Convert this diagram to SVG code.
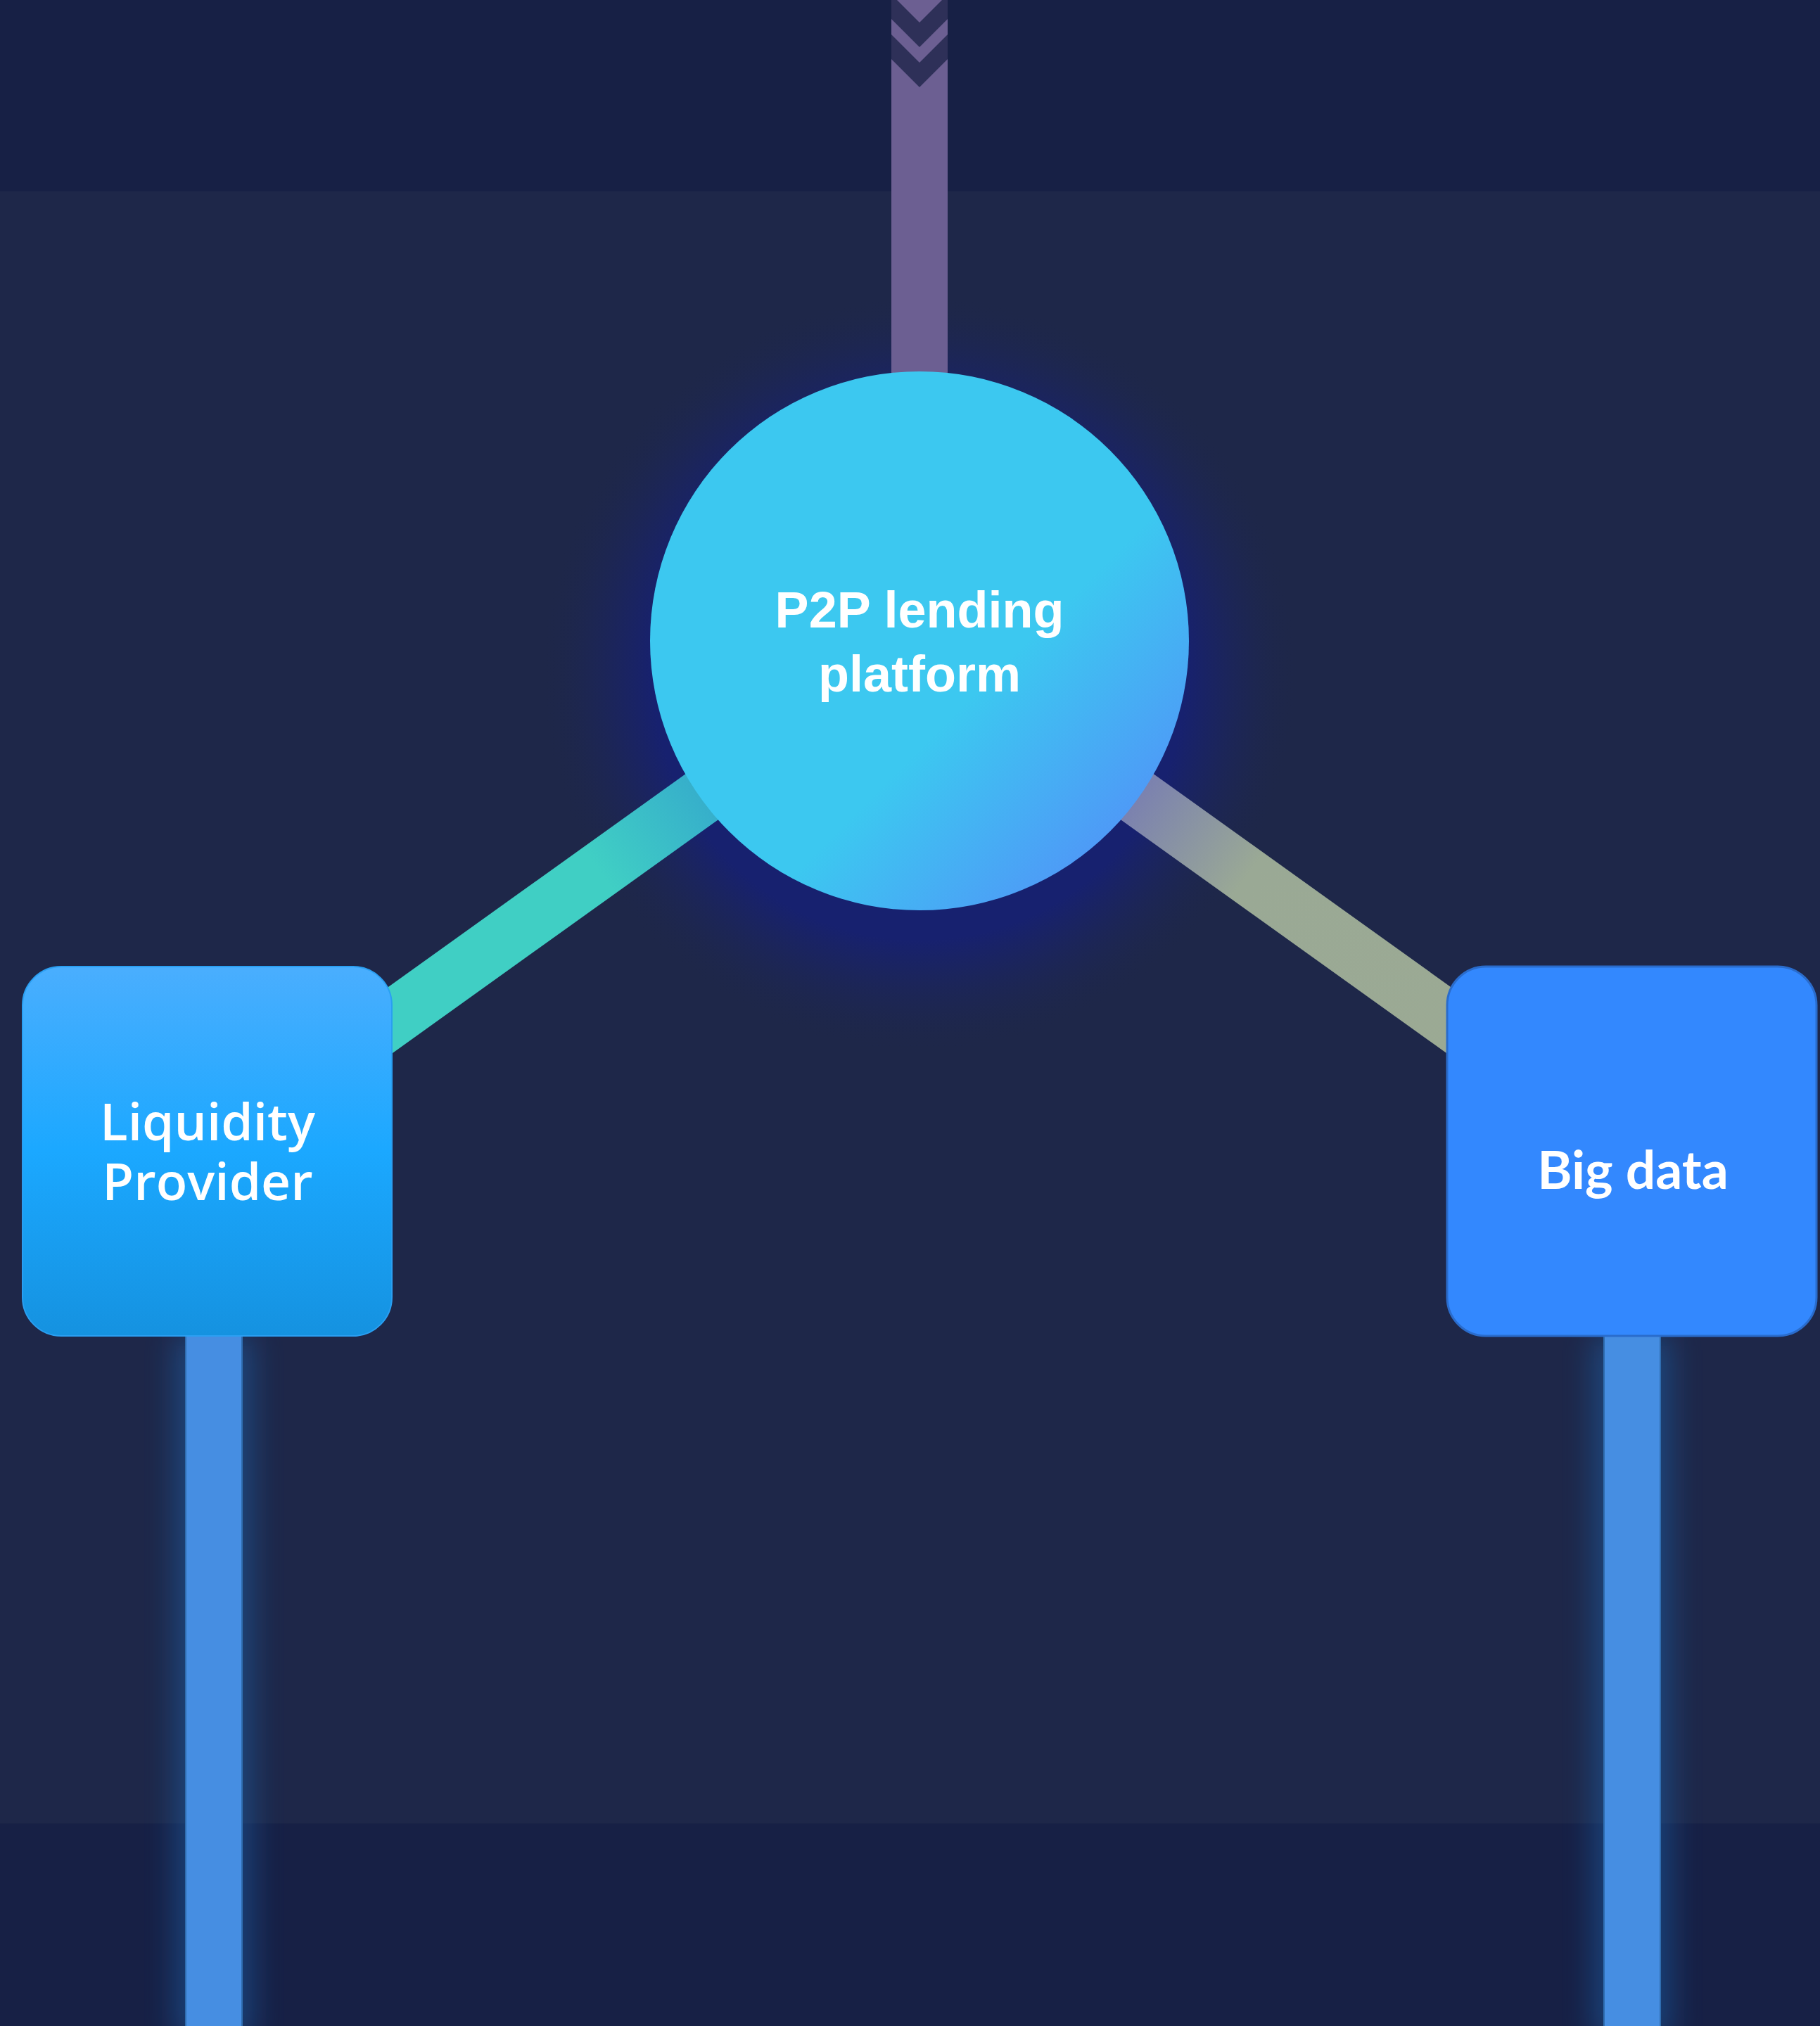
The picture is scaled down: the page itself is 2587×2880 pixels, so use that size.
<svg xmlns="http://www.w3.org/2000/svg" width="2587" height="2880" viewBox="0 0 2587 2880">
  <style>
    .band-dark { fill: #172045; }
    .band-main { fill: #1e2749; }
    .label { fill: #ffffff; text-anchor: middle; }
    .label-hub { font-family: "Liberation Sans", Arial, sans-serif; font-weight: 700; font-size: 72px; }
    .label-box { font-family: "Open Sans", "Noto Sans", sans-serif; font-weight: 600; font-size: 73px; }
    .label-box-bold { font-family: Lato, "Open Sans", sans-serif; font-weight: 700; font-size: 75px; }
    .chevron { fill: #2e3058; }
    .feed { fill: #468ee2; stroke: #2f6db0; stroke-width: 2; }
  </style>
  <defs>
    <linearGradient id="hubFill" x1="0" y1="0" x2="1" y2="1">
      <stop offset="0" stop-color="#3cc8f0"/>
      <stop offset="0.6" stop-color="#3cc8f0"/>
      <stop offset="0.97" stop-color="#5686fa"/>
    </linearGradient>
    <radialGradient id="haloFill" cx="0.5" cy="0.5" r="0.5">
      <stop offset="0.7" stop-color="#17216f" stop-opacity="1"/>
      <stop offset="0.8" stop-color="#19236a" stop-opacity="0.6"/>
      <stop offset="0.9" stop-color="#1b2560" stop-opacity="0.25"/>
      <stop offset="1" stop-color="#1e2749" stop-opacity="0"/>
    </radialGradient>
    <linearGradient id="liquidityFill" x1="0" y1="0" x2="0" y2="1">
      <stop offset="0" stop-color="#4aaefe"/>
      <stop offset="0.5" stop-color="#1ba8ff"/>
      <stop offset="1" stop-color="#1592e0"/>
    </linearGradient>
    <linearGradient id="linkLeft" gradientUnits="userSpaceOnUse" x1="1307" y1="911" x2="294" y2="1637">
      <stop offset="0.3" stop-color="#36aecb"/>
      <stop offset="0.45" stop-color="#40cfc4"/>
      <stop offset="1" stop-color="#40cfc4"/>
    </linearGradient>
    <linearGradient id="linkRight" gradientUnits="userSpaceOnUse" x1="1307" y1="911" x2="2320" y2="1637">
      <stop offset="0.3" stop-color="#7a80b0"/>
      <stop offset="0.46" stop-color="#9aa995"/>
      <stop offset="1" stop-color="#9caa93"/>
    </linearGradient>
    <filter id="feedGlow" x="-100%" y="-10%" width="300%" height="120%">
      <feGaussianBlur stdDeviation="22"/>
    </filter>
  </defs>

  <!-- background bands -->
  <rect class="band-dark" x="0" y="0" width="2587" height="272"/>
  <rect class="band-main" x="0" y="272" width="2587" height="2320"/>
  <rect class="band-dark" x="0" y="2592" width="2587" height="288"/>

  <!-- soft glow behind the hub -->
  <circle cx="1307" cy="958" r="540" fill="url(#haloFill)"/>

  <g id="connectors">
    <!-- incoming feed from above, with chevrons -->
    <rect x="1267" y="0" width="80" height="560" fill="#6c5f92"/>
    <polygon class="chevron" points="1267,-8 1307,32 1347,-8 1347,27 1307,67 1267,27"/>
    <polygon class="chevron" points="1267,49 1307,89 1347,49 1347,84 1307,124 1267,84"/>

    <!-- hub to boxes -->
    <line x1="1307" y1="911" x2="294" y2="1637" stroke="url(#linkLeft)" stroke-width="80"/>
    <line x1="1307" y1="911" x2="2320" y2="1637" stroke="url(#linkRight)" stroke-width="80"/>

    <!-- outgoing feeds below the boxes -->
    <rect x="250" y="1899" width="108" height="1000" fill="#1a70c0" opacity="0.45" filter="url(#feedGlow)"/>
    <rect x="2266" y="1899" width="108" height="1000" fill="#1a70c0" opacity="0.45" filter="url(#feedGlow)"/>
    <rect class="feed" x="264" y="1899" width="80" height="990"/>
    <rect class="feed" x="2280" y="1899" width="80" height="990"/>
  </g>

  <g id="hub">
    <circle cx="1307" cy="911" r="383" fill="url(#hubFill)"/>
    <text class="label label-hub" x="1307" y="892">P2P lending</text>
    <text class="label label-hub" x="1307" y="983">platform</text>
  </g>

  <g id="liquidity-provider">
    <rect x="32" y="1374" width="525" height="525" rx="55" ry="55" fill="url(#liquidityFill)" stroke="#2a9ff2" stroke-width="2"/>
    <text class="label label-box" x="295" y="1621">Liquidity</text>
    <text class="label label-box" x="295" y="1706">Provider</text>
  </g>

  <g id="big-data">
    <rect x="2057" y="1374" width="525" height="525" rx="55" ry="55" fill="#3388fe" stroke="#2a6ccc" stroke-width="3"/>
    <text class="label label-box-bold" x="2321" y="1690">Big data</text>
  </g>
</svg>
